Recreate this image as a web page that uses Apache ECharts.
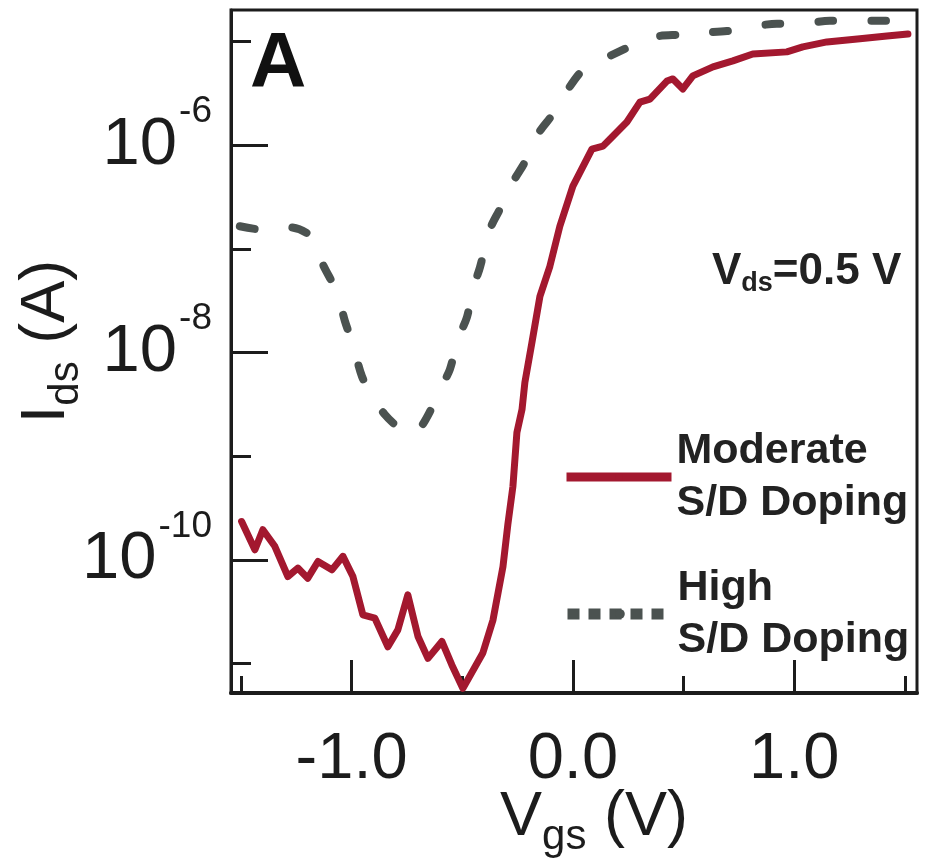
<!DOCTYPE html>
<html>
<head>
<meta charset="utf-8">
<script src="https://cdn.jsdelivr.net/npm/echarts@6/dist/echarts.min.js"></script>
<style>
  html, body { margin: 0; padding: 0; background: #ffffff; }
  #chart { width: 925px; height: 868px; }
</style>
</head>
<body>
<div id="chart"></div>
<script>
// Transfer curves I_ds(V_gs) at V_ds = 0.5 V
const vgsModerate = [-1.497, -1.437, -1.401, -1.347, -1.288, -1.243, -1.198, -1.152, -1.089, -1.039,
  -0.994, -0.949, -0.895, -0.836, -0.791, -0.746, -0.700, -0.655, -0.592, -0.547,
  -0.497, -0.407, -0.361, -0.316, -0.294, -0.271, -0.253, -0.230, -0.217, -0.185,
  -0.149, -0.104, -0.059, 0.000, 0.086, 0.136, 0.167, 0.244, 0.303, 0.348,
  0.425, 0.452, 0.497, 0.542, 0.633, 0.723, 0.813, 0.967, 1.039, 1.148,
  1.297, 1.419, 1.514];
const idsModerate = [2.34e-10, 1.25e-10, 1.95e-10, 1.35e-10, 6.90e-11, 8.32e-11, 6.65e-11, 9.64e-11, 8.00e-11, 1.08e-10,
  6.90e-11, 2.94e-11, 2.74e-11, 1.45e-11, 2.11e-11, 4.59e-11, 1.82e-11, 1.12e-11, 1.63e-11, 9.68e-12,
  5.75e-12, 1.26e-11, 2.63e-11, 8.61e-11, 2.18e-10, 5.11e-10, 1.69e-9, 2.81e-9, 5.13e-9, 1.25e-8,
  3.48e-8, 6.78e-8, 1.65e-7, 4.02e-7, 9.14e-7, 9.77e-7, 1.14e-6, 1.67e-6, 2.60e-6, 2.78e-6,
  4.15e-6, 4.35e-6, 3.48e-6, 4.65e-6, 5.68e-6, 6.49e-6, 7.57e-6, 7.93e-6, 8.85e-6, 9.89e-6,
  1.06e-5, 1.13e-5, 1.18e-5];

const vgsHigh = [-1.505, -1.414, -1.278, -1.179, -1.130, -1.066, -1.030, -0.994, -0.953, -0.904,
  -0.850, -0.795, -0.746, -0.691, -0.646, -0.601, -0.556, -0.520, -0.479, -0.452,
  -0.420, -0.375, -0.330, -0.271, -0.217, -0.158, -0.090, -0.036, 0.032, 0.086,
  0.167, 0.235, 0.316, 0.393, 0.484, 0.574, 0.696, 0.800, 0.922, 1.026,
  1.161, 1.265, 1.396, 1.509];
const idsHigh = [1.65e-7, 1.54e-7, 1.61e-7, 1.29e-7, 7.08e-8, 3.80e-8, 2.00e-8, 1.19e-8, 5.86e-9, 3.67e-9,
  2.52e-9, 1.93e-9, 1.61e-9, 1.88e-9, 2.69e-9, 4.40e-9, 6.85e-9, 1.34e-8, 2.18e-8, 4.06e-8,
  6.62e-8, 1.54e-7, 2.41e-7, 4.40e-7, 6.85e-7, 1.28e-6, 2.00e-6, 3.11e-6, 4.97e-6, 6.07e-6,
  7.24e-6, 8.47e-6, 1.03e-5, 1.13e-5, 1.16e-5, 1.21e-5, 1.26e-5, 1.38e-5, 1.48e-5, 1.48e-5,
  1.58e-5, 1.58e-5, 1.58e-5, 1.58e-5];

const seriesNames = ['Moderate\nS/D Doping', 'High\nS/D Doping'];

// Tick positions
const xMajorTicks = [-1, 0, 1];
const xMinorTicks = [-1.5, -0.5, 0.5, 1.5];
const yMajorTicks = [1e-10, 1e-8, 1e-6];
const yMinorTicks = [1e-11, 1e-9, 1e-7, 1e-5];

const X_MIN = -1.545, X_MAX = 1.555;
const Y_MIN = 5.19e-12, Y_MAX = 2.01e-5;

const INK = '#1c1c1c';
const RED = '#a3182f';
const GRAY = '#4b5250';
const FONT = '"Liberation Sans", Arial, Helvetica, sans-serif';

const pairs = (xs, ys) => xs.map((x, i) => [x, ys[i]]);

const chart = echarts.init(document.getElementById('chart'), null, { renderer: 'canvas' });

const baseX = {
  type: 'value', min: X_MIN, max: X_MAX, position: 'bottom',
  splitLine: { show: false }, minorTick: { show: false }
};
const baseY = {
  type: 'log', logBase: 10, min: Y_MIN, max: Y_MAX, position: 'left',
  splitLine: { show: false }, minorTick: { show: false }, minorSplitLine: { show: false }
};

chart.setOption({
  animation: false,
  backgroundColor: '#ffffff',
  textStyle: { fontFamily: FONT, color: INK },
  grid: {
    left: 231, right: 8, top: 10, bottom: 175,
    show: true, borderColor: INK, borderWidth: 3, backgroundColor: 'transparent',
    containLabel: false, outerBoundsMode: 'none'
  },
  title: [
    {
      text: 'A', left: 250, top: 26, padding: 0,
      textStyle: { fontFamily: FONT, fontSize: 78, fontWeight: 'bold', color: '#111', lineHeight: 78 }
    },
    {
      text: '{v|V}{s|ds}{v|=0.5 V}', left: 712, top: 247, padding: 0,
      textStyle: {
        rich: {
          v: { fontFamily: FONT, fontSize: 44, fontWeight: 'bold', color: '#222', lineHeight: 50, verticalAlign: 'middle' },
          s: { fontFamily: FONT, fontSize: 27, fontWeight: 'bold', color: '#222', lineHeight: 26, verticalAlign: 'bottom' }
        }
      }
    }
  ],
  legend: [
    {
      data: [seriesNames[0]], orient: 'vertical', left: 562, top: 425, padding: 0,
      itemWidth: 105, itemHeight: 10, selectedMode: false,
      lineStyle: { width: 9, color: RED, type: 'solid', cap: 'butt' },
      textStyle: { fontFamily: FONT, fontSize: 43, fontWeight: 'bold', color: '#222', lineHeight: 52 }
    },
    {
      data: [seriesNames[1]], orient: 'vertical', left: 562, top: 562, padding: 0,
      itemWidth: 105, itemHeight: 12, selectedMode: false,
      lineStyle: { width: 11, color: GRAY, type: [12, 9], cap: 'butt' },
      textStyle: { fontFamily: FONT, fontSize: 43, fontWeight: 'bold', color: '#222', lineHeight: 52 }
    }
  ],
  xAxis: [
    Object.assign({}, baseX, {
      name: '{m|V}{s|gs}{m| (V)}',
      nameLocation: 'middle', nameGap: 85, nameMoveOverlap: false,
      nameTextStyle: {
        rich: {
          m: { fontFamily: FONT, fontSize: 63, color: INK, lineHeight: 80, verticalAlign: 'middle' },
          s: { fontFamily: FONT, fontSize: 42, color: INK, lineHeight: 32, verticalAlign: 'bottom' }
        },
        padding: [0, 0, 0, 40]
      },
      axisLine: { show: true, onZero: false, lineStyle: { color: INK, width: 4 } },
      axisTick: { show: true, inside: true, length: 33, customValues: xMajorTicks, lineStyle: { color: INK, width: 3 } },
      axisLabel: {
        customValues: xMajorTicks, margin: 35,
        fontFamily: FONT, fontSize: 65, color: INK,
        formatter: v => v.toFixed(1)
      }
    }),
    Object.assign({}, baseX, {
      axisLine: { show: false, onZero: false },
      axisTick: { show: true, inside: true, length: 17, customValues: xMinorTicks, lineStyle: { color: INK, width: 3 } },
      axisLabel: { show: false }
    })
  ],
  yAxis: [
    Object.assign({}, baseY, {
      name: '{m|I}{s|ds}{m| (A)}',
      nameLocation: 'middle', nameGap: 144, nameRotate: 90, nameMoveOverlap: false,
      nameTextStyle: {
        rich: {
          m: { fontFamily: FONT, fontSize: 63, color: INK, lineHeight: 80, verticalAlign: 'middle' },
          s: { fontFamily: FONT, fontSize: 42, color: INK, lineHeight: 30, verticalAlign: 'bottom' }
        },
        padding: [0, 0, 0, 20]
      },
      axisLine: { show: true, onZero: false, lineStyle: { color: INK, width: 3 } },
      axisTick: { show: true, inside: true, length: 37, customValues: yMajorTicks, lineStyle: { color: INK, width: 3 } },
      axisLabel: {
        customValues: yMajorTicks, margin: 19,
        formatter: v => '{b|10}{e|' + Math.round(Math.log10(v)) + '}',
        rich: {
          b: { fontFamily: FONT, fontSize: 67, color: INK, lineHeight: 104, verticalAlign: 'middle' },
          e: { fontFamily: FONT, fontSize: 37, color: INK, lineHeight: 37, verticalAlign: 'top', padding: [0, 0, 0, 2] }
        }
      }
    }),
    Object.assign({}, baseY, {
      axisLine: { show: false, onZero: false },
      axisTick: { show: true, inside: true, length: 20, customValues: yMinorTicks, lineStyle: { color: INK, width: 3 } },
      axisLabel: { show: false }
    })
  ],
  series: [
    {
      name: seriesNames[0], type: 'line', xAxisIndex: 0, yAxisIndex: 0,
      data: pairs(vgsModerate, idsModerate),
      symbol: 'none', smooth: false, z: 3,
      lineStyle: { color: RED, width: 7, join: 'round', cap: 'round' },
      itemStyle: { color: RED }
    },
    {
      name: seriesNames[1], type: 'line', xAxisIndex: 0, yAxisIndex: 0,
      data: pairs(vgsHigh, idsHigh),
      symbol: 'none', smooth: 0.3, z: 2,
      lineStyle: { color: GRAY, width: 8, type: [15, 38], cap: 'round', join: 'round' },
      itemStyle: { color: GRAY }
    }
  ]
});
</script>
</body>
</html>
